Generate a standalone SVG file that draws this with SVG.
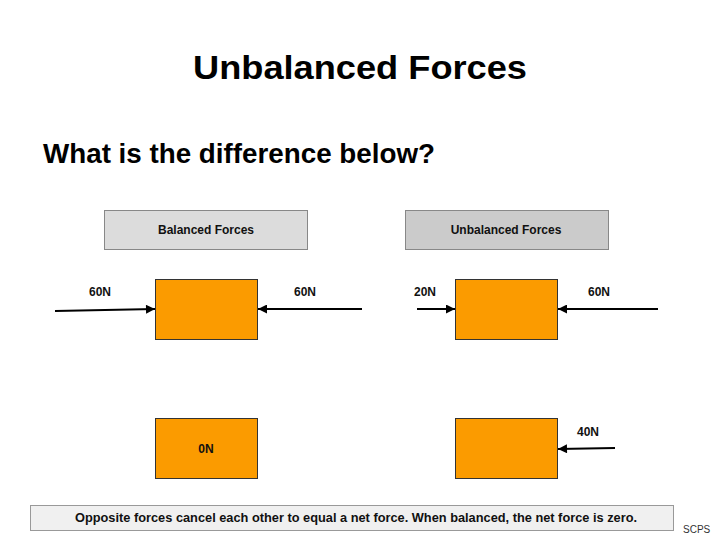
<svg xmlns="http://www.w3.org/2000/svg" width="720" height="540" viewBox="0 0 720 540">
<style>
.t{font-family:"Liberation Sans",Arial,sans-serif;font-weight:bold;fill:#000}
.lbl{font-family:"Liberation Sans",Arial,sans-serif;font-weight:bold;font-size:12px;fill:#111}
.box{fill:#fb9b00;stroke:#333;stroke-width:1}
.hdr{stroke:#888;stroke-width:1}
.arr{stroke:#000;stroke-width:2;fill:none;marker-end:url(#ah)}
</style>
<defs>
<marker id="ah" viewBox="0 0 10 10" refX="10" refY="5" markerWidth="6.5" markerHeight="4.5" markerUnits="strokeWidth" orient="auto">
<path d="M0,0 L10,5 L0,10 Z" fill="#000"/>
</marker>
</defs>
<rect width="720" height="540" fill="#fff"/>
<text class="t" x="360" y="79" font-size="34" text-anchor="middle" textLength="334" lengthAdjust="spacingAndGlyphs">Unbalanced Forces</text>
<text class="t" x="43" y="163" font-size="28" textLength="392" lengthAdjust="spacingAndGlyphs">What is the difference below?</text>

<g id="hdr-balanced">
<rect class="hdr" x="104.5" y="210.5" width="203" height="39" fill="#dcdcdc"/>
<text class="lbl" x="206" y="234" text-anchor="middle" font-size="12">Balanced Forces</text>
</g>
<g id="hdr-unbalanced">
<rect class="hdr" x="405.5" y="210.5" width="203" height="39" fill="#cbcbcb"/>
<text class="lbl" x="506" y="234" text-anchor="middle" font-size="12">Unbalanced Forces</text>
</g>

<g id="box-bal-top"><rect class="box" x="155.5" y="279.5" width="102" height="60"/></g>
<g id="box-unbal-top"><rect class="box" x="455.5" y="279.5" width="102" height="60"/></g>
<g id="box-bal-bottom"><rect class="box" x="155.5" y="418.5" width="102" height="60"/>
<text class="lbl" x="206" y="453" text-anchor="middle">0N</text></g>
<g id="box-unbal-bottom"><rect class="box" x="455.5" y="418.5" width="102" height="60"/></g>

<g id="labels">
<text class="lbl" x="100" y="296" text-anchor="middle">60N</text>
<text class="lbl" x="305" y="296" text-anchor="middle">60N</text>
<text class="lbl" x="425" y="296" text-anchor="middle">20N</text>
<text class="lbl" x="599" y="296" text-anchor="middle">60N</text>
<text class="lbl" x="588" y="436" text-anchor="middle" font-weight="normal">40N</text>
</g>

<g id="connectors">
<line class="arr" x1="55" y1="311" x2="155" y2="309"/>
<line class="arr" x1="362" y1="309" x2="258" y2="309"/>
<line class="arr" x1="417" y1="309" x2="455" y2="309"/>
<line class="arr" x1="658" y1="309" x2="558" y2="309"/>
<line class="arr" x1="615" y1="448" x2="558" y2="449"/>
</g>

<g id="footer">
<rect x="30.5" y="505.5" width="643" height="25" fill="#f0f0f0" stroke="#999" stroke-width="1"/>
<text x="356" y="522" text-anchor="middle" font-family="Liberation Sans, Arial, sans-serif" font-weight="bold" font-size="12.5" fill="#111" textLength="562" lengthAdjust="spacingAndGlyphs">Opposite forces cancel each other to equal a net force. When balanced, the net force is zero.</text>
<text x="683" y="533" font-family="Liberation Sans Narrow, Liberation Sans, sans-serif" font-size="10" fill="#333">SCPS</text>
</g>
</svg>
